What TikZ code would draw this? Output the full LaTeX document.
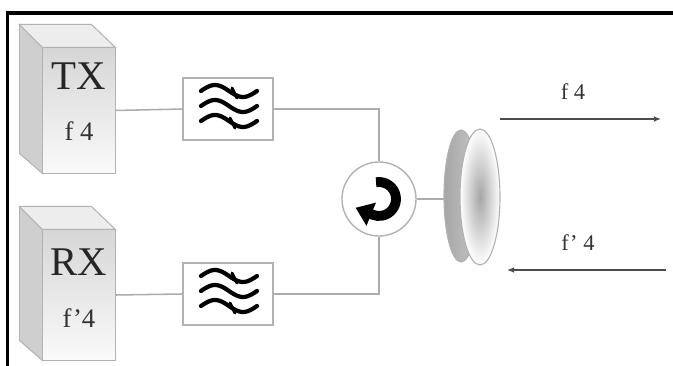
\documentclass[tikz,border=0pt]{standalone}
\usepackage{fontspec}
\setmainfont{Liberation Serif}
\usetikzlibrary{arrows.meta,positioning}

\begin{document}
\begin{tikzpicture}[x=0.025cm,y=-0.025cm,
    wire/.style={draw=gray!65,line width=1.1pt},
    rack/.style={draw=gray!60,line width=0.7pt,top color=gray!32,bottom color=gray!4,
                 minimum width=1.8cm,inner sep=0pt},
    side/.style={draw=gray!60,line width=0.7pt,fill=gray!38},
    lid/.style={draw=gray!60,line width=0.7pt,fill=gray!14},
    bpf/.style={draw=gray!60,line width=0.8pt,fill=white,minimum width=2.25cm,minimum height=1.55cm},
    wave/.style={line width=3pt,line cap=round},
    big/.style={font=\fontsize{29}{29}\selectfont,text=black!85,inner sep=0pt},
    freq/.style={font=\fontsize{19}{19}\selectfont,text=black!80,inner sep=0pt},
    ray/.style={draw=black!70,line width=0.9pt,-{Latex[length=5pt,width=4pt]}}]

\useasboundingbox (0,0) rectangle (673,366);

% frame
\draw[line width=2.2pt] (7.5,366) -- (7.5,13) -- (673,13);

% transmitter and receiver racks
\node[rack,minimum height=3.125cm] (tx) at (79,110.5) {};
\node[rack,minimum height=3.25cm] (rx) at (79,295) {};
\foreach \b in {tx,rx} {
  \filldraw[side] (\b.north west) -- ++(-23,-23) -- ([shift={(-23,-20)}]\b.south west) -- (\b.south west) -- cycle;
  \filldraw[lid] (\b.north west) -- ++(-23,-23) -- ++(72,0) -- (\b.north east) -- cycle;
}
\node[big] (txname) at (79,76) {TX};
\node[freq] (txfreq) at (79,131) {f 4};
\node[big] (rxname) at (79,262) {RX};
\node[freq] (rxfreq) at (79,318) {f’4};

% band-pass filters
\node[bpf] (bpfA) at (228,109) {};
\node[bpf] (bpfB) at (228,294) {};
\foreach \f in {bpfA,bpfB} {
  \foreach \dy in {-18,-3,12}
    \draw[wave,shift={(\f.center)}] plot[domain=-27:29,samples=30,smooth] (\x,{\dy-6*sin(6.4286*(\x+27))});
  \draw[wave,line width=2.2pt,shift={(\f.center)}] (4,-21) -- (9,-11);
  \draw[wave,line width=2.2pt,shift={(\f.center)}] (2,9) -- (7,19);
}

% circulator
\node[circle,draw=gray!60,line width=1pt,fill=white,minimum size=1.85cm] (circ) at (379,199) {};
\draw[line width=7pt,-{Triangle[width=17pt,length=12pt]}]
  ([shift={(-100:17)}]circ.center) arc[start angle=-100,end angle=112,radius=17] -- ++(-17,-7);

% antenna
\coordinate (feed) at (444,199);
\draw[draw=gray!60,line width=0.8pt,left color=gray!70,right color=gray!45] (461,196) ellipse [x radius=17,y radius=66];
\draw[draw=gray!60,line width=0.8pt,inner color=gray!70,outer color=white] (480,197) ellipse [x radius=20,y radius=68];

% connections
\draw[wire] (tx.east) -- (bpfA.west);
\draw[wire] (rx.east) -- (bpfB.west);
\draw[wire] (bpfA.east) -| (circ.north);
\draw[wire] (bpfB.east) -| (circ.south);
\draw[wire] (circ.east) -- (feed);

% radiated and received signals
\coordinate (outA) at (500,119);
\coordinate (outB) at (661,119);
\coordinate (inA) at (666,270);
\coordinate (inB) at (507,270);
\draw[ray] (outA) -- (outB);
\draw[ray] (inA) -- (inB);
\node[freq,font=\fontsize{16}{16}\selectfont] (fout) at (573,92) {f 4};
\node[freq,font=\fontsize{16}{16}\selectfont] (fin) at (578,243) {f’ 4};

\end{tikzpicture}
\end{document}
